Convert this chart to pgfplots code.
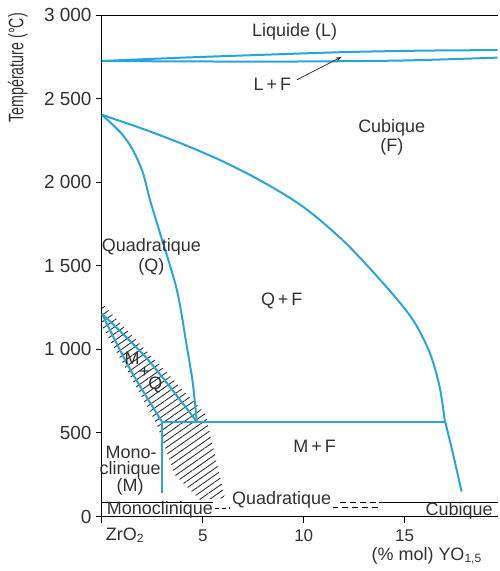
\documentclass[border=0pt]{standalone}
\usepackage{fontspec}
\setmainfont{Liberation Sans}
\usepackage{pgfplots}
\pgfplotsset{compat=1.18}
\usetikzlibrary{patterns.meta,arrows.meta}
\definecolor{phase}{RGB}{40,165,220}
\definecolor{txt}{RGB}{50,50,50}
\tikzset{lab/.style={font=\fontsize{9}{10}\selectfont, text=txt}}
\begin{document}
\begin{tikzpicture}
\begin{axis}[
  scale only axis, width=198pt, height=251pt,
  xmin=0, xmax=19.6, ymin=0, ymax=3000,
  axis line style={draw=none},
  clip=false,
  xtick={0,5,10,15}, xticklabels={,5,10,15},
  ytick={0,500,1000,1500,2000,2500,3000},
  yticklabels={0,500,1 000,1 500,2 000,2 500,3 000},
  xtick pos=bottom, ytick pos=left,
  tick align=outside, major tick length=3pt,
  tick style={black, line width=0.5pt},
  xticklabel style={font=\fontsize{8.5}{10}\selectfont, text=txt},
  yticklabel style={font=\fontsize{9.5}{10}\selectfont, text=txt, inner sep=2pt},
]
% frame
\draw[black, line width=0.5pt] (axis cs:0,3000) -- (axis cs:19.6,3000);
\draw[black, line width=0.5pt] (axis cs:0,0) -- (axis cs:19.6,0);
\draw[black, line width=0.5pt] (axis cs:0,0) -- (axis cs:0,3000);
% bottom strip
\draw[black, line width=0.5pt] (axis cs:0,84) -- (axis cs:5.5,84);
\draw[black, line width=0.5pt] (axis cs:13.75,84) -- (axis cs:19.6,84);
\draw[black, line width=0.5pt, dash pattern=on 3pt off 2pt] (axis cs:11.8,84) -- (axis cs:13.75,84);
\draw[black, line width=0.5pt] (axis cs:6.3,54) -- (axis cs:11.3,54);
\draw[black, line width=0.5pt, dash pattern=on 3pt off 2pt] (axis cs:11.4,54) -- (axis cs:13.75,54);
\draw[black, line width=0.5pt, dash pattern=on 2pt off 1.5pt] (axis cs:5.6,50) -- (axis cs:6.4,50);
% hatched region
\fill[pattern={Lines[angle=35,distance=2.8pt,line width=0.45pt]}, pattern color=txt]
  (axis cs:0,1275) -- (axis cs:5.15,610) -- (axis cs:5.65,341) -- (axis cs:6.1,110)
  -- (axis cs:4.85,100) -- (axis cs:3.61,251) -- (axis cs:2.72,550) -- (axis cs:2.38,628)
  -- (axis cs:0,1140) -- cycle;
% liquidus / solidus
\addplot[phase, line width=1pt, smooth] coordinates {(0,2725) (4,2745) (8,2762) (12,2778) (16,2787) (19.6,2790)};
\addplot[phase, line width=1pt, smooth] coordinates {(0,2725) (5,2722) (10,2722) (15,2728) (19.6,2745)};
% Q / Q+F
\addplot[phase, line width=1pt, smooth] coordinates {(0,2403) (0.94,2295) (1.53,2194) (2.03,2056) (2.38,1895) (2.87,1698) (3.71,1357) (4.21,1016) (4.5,801) (4.7,568)};
% Q+F / F
\addplot[phase, line width=1pt, smooth] coordinates {(0,2403) (2,2320) (4,2228) (6,2124) (8,2000) (10,1850) (12,1645) (14,1387) (15.4,1178) (16.24,980) (16.73,777) (16.98,580)};
\addplot[phase, line width=1pt, smooth] coordinates {(16.98,580) (17.38,383) (17.82,149)};
% M+Q band
\addplot[phase, line width=1pt, smooth] coordinates {(0,1213) (2.23,945) (4.7,568)};
\addplot[phase, line width=1pt, smooth] coordinates {(0,1213) (1.4,880) (2.97,568)};
% eutectoid and vertical
\addplot[phase, line width=1pt] coordinates {(2.97,568) (16.98,568)};
\addplot[phase, line width=1pt] coordinates {(2.97,568) (2.97,143)};
% arrow
\draw[txt, line width=0.4pt, -{Stealth[length=3pt,width=2pt]}] (axis cs:9.65,2612) -- (axis cs:11.88,2750);
% labels
\node[lab] at (axis cs:9.55,2899) {Liquide (L)};
\node[lab] at (axis cs:8.45,2588) {L\,+\,F};
\node[lab] at (axis cs:14.36,2325) {Cubique};
\node[lab] at (axis cs:14.36,2212) {(F)};
\node[lab] at (axis cs:2.45,1614) {Quadratique};
\node[lab] at (axis cs:2.45,1494) {(Q)};
\node[lab] at (axis cs:8.91,1291) {Q\,+\,F};
\node[lab, inner sep=0pt] at (axis cs:1.5,945) {M};
\node[lab, inner sep=0pt] at (axis cs:2.12,865) {+};
\node[lab, inner sep=0pt] at (axis cs:2.65,785) {Q};
\node[lab] at (axis cs:10.54,418) {M\,+\,F};
\node[lab] at (axis cs:1.45,383) {Mono-};
\node[lab] at (axis cs:1.4,281) {clinique};
\node[lab] at (axis cs:1.4,179) {(M)};
\node[lab] at (axis cs:2.87,42) {Monoclinique};
\node[lab, fill=white, inner sep=1pt] at (axis cs:8.9,100) {Quadratique};
\node[lab] at (axis cs:17.7,36) {Cubique};
\node[lab] at (axis cs:1.15,-114) {ZrO\textsubscript{2}};
\node[lab] at (axis cs:16.1,-236) {(\% mol) YO\textsubscript{1,5}};
\node[lab, rotate=90] at (axis cs:-4.16,2684) {\scalebox{0.68}[1]{\fontsize{10.5}{11}\selectfont Température (°C)}};
% bounding box
\path (rel axis cs:-0.2576,1.0299) rectangle (rel axis cs:1,-0.1076);
\end{axis}
\end{tikzpicture}
\end{document}
